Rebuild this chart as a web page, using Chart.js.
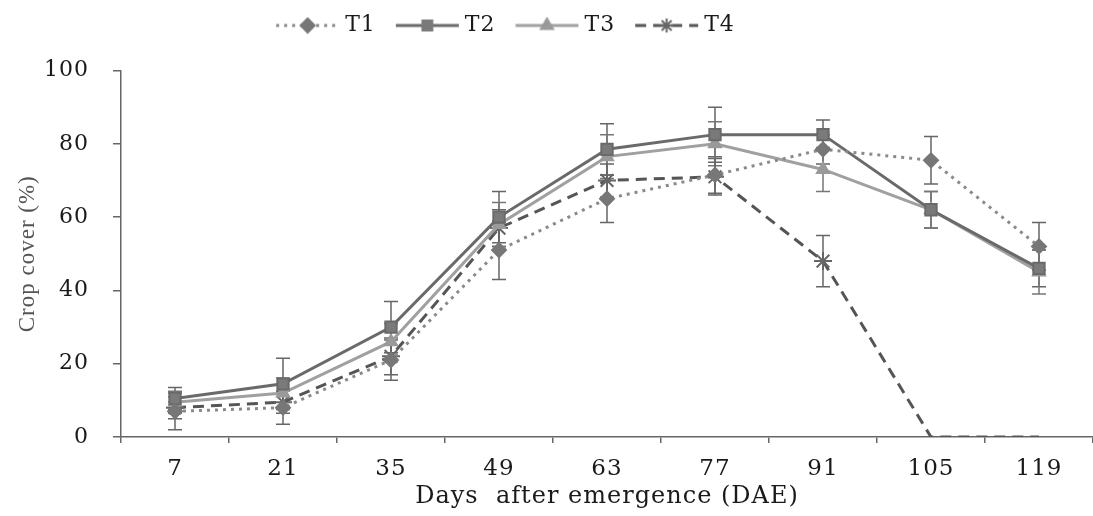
<!DOCTYPE html>
<html lang="en">
<head>
  <meta charset="UTF-8">
  <title>Crop cover</title>
  <script src="https://cdn.jsdelivr.net/npm/chart.js"></script>
  <style>
    html, body { margin: 0; padding: 0; background: #fff; }
    #wrap { width: 1093px; height: 516px; }
  </style>
</head>
<body>
  <div id="wrap"><canvas id="cover"></canvas></div>

  <script>
    const days = ['7', '21', '35', '49', '63', '77', '91', '105', '119'];

    const t1 = [7, 8, 21, 51, 65, 71.5, 78.5, 75.5, 52];
    const t2 = [10.5, 14.5, 30, 60, 78.5, 82.5, 82.5, 62, 46];
    const t3 = [9.5, 12, 26, 58, 76.5, 80, 73, 62, 45];
    const t4 = [8, 9.5, 22, 57, 70, 71, 48, 0, 0];

    const t1Err = [5, 4.5, 5.5, 8, 6.5, 5, 4, 6.5, 6.5];
    const t2Err = [3, 7, 7, 7, 7, 7.5, 4, 5, 5];
    const t3Err = [3, 4, 5, 6, 6, 6, 6, 5, 6];
    const t4Err = [3, 3, 5, 5, 4.5, 5, 7, 0, 0];

    const serif = '"DejaVu Serif", "Liberation Serif", serif';

    // legend picture: line + marker, drawn a bit to the right so the text sits close
    function legendIcon(color, dash, style, markerColor) {
      const c = document.createElement('canvas');
      c.width = 80; c.height = 18;
      const ctx = c.getContext('2d');
      ctx.strokeStyle = color;
      ctx.lineWidth = 3;
      ctx.setLineDash(dash);
      ctx.beginPath(); ctx.moveTo(11, 9); ctx.lineTo(74, 9); ctx.stroke();
      ctx.setLineDash([]);
      ctx.fillStyle = markerColor;
      ctx.strokeStyle = markerColor;
      ctx.lineWidth = 2;
      Chart.helpers.drawPoint(ctx, {
        pointStyle: style, radius: 7, borderWidth: 2, rotation: 0
      }, 42.5, 9);
      return c;
    }

    // the source picture is stretched sideways, so space the letters a bit
    const wideText = {
      id: 'wideText',
      beforeUpdate(chart) { chart.ctx.letterSpacing = '1px'; },
      beforeDraw(chart) { chart.ctx.letterSpacing = '1px'; },
      afterLayout(chart) {
        const lg = chart.legend;
        lg.left -= 41; lg.right -= 41;
        lg.top -= 24; lg.bottom -= 24;
      }
    };

    const errorBars = {
      id: 'errorBars',
      beforeDatasetsDraw(chart) {
        const ctx = chart.ctx;
        const y = chart.scales.y;
        chart.data.datasets.forEach((ds, i) => {
          const meta = chart.getDatasetMeta(i);
          ctx.save();
          ctx.strokeStyle = ds.errColor;
          ctx.lineWidth = 1.5;
          meta.data.forEach((pt, j) => {
            const e = ds.err[j];
            if (!e) return;
            const top = y.getPixelForValue(ds.data[j] + e);
            const bot = y.getPixelForValue(ds.data[j] - e);
            ctx.beginPath();
            ctx.moveTo(pt.x, top); ctx.lineTo(pt.x, bot);
            ctx.moveTo(pt.x - 7, top); ctx.lineTo(pt.x + 7, top);
            ctx.moveTo(pt.x - 7, bot); ctx.lineTo(pt.x + 7, bot);
            ctx.stroke();
          });
          ctx.restore();
        });
      }
    };

    const sets = [
      { label: 'T1', data: t1, err: t1Err, borderColor: '#8a8a8a', borderDash: [3, 5], pointStyle: 'rectRot', pointBackgroundColor: '#777', pointBorderColor: '#777', pointRadius: 7, errColor: '#666' },
      { label: 'T2', data: t2, err: t2Err, borderColor: '#6a6a6a', borderDash: [], pointStyle: 'rect', pointBackgroundColor: '#7a7a7a', pointBorderColor: '#6a6a6a', pointRadius: 8, errColor: '#666' },
      { label: 'T3', data: t3, err: t3Err, borderColor: '#a0a0a0', borderDash: [], pointStyle: 'triangle', pointBackgroundColor: '#9a9a9a', pointBorderColor: '#999', pointRadius: 7, errColor: '#777' },
      { label: 'T4', data: t4, err: t4Err, borderColor: '#555', borderDash: [11, 7], pointStyle: 'star', pointBackgroundColor: '#666', pointBorderColor: '#666', pointRadius: [9, 9, 9, 9, 9, 9, 9, 0, 0], errColor: '#666' }
    ];

    new Chart(document.getElementById('cover').getContext('2d'), {
      type: 'line',
      data: {
        labels: days,
        datasets: sets.map(s => Object.assign({
          borderWidth: 3, fill: false, tension: 0, pointBorderWidth: 2
        }, s))
      },
      plugins: [wideText, errorBars],
      options: {
        responsive: true,
        maintainAspectRatio: false,
        animation: false,
        layout: { autoPadding: false, padding: { left: 0, right: 0, top: 18.5, bottom: 0 } },
        scales: {
          x: {
            offset: true,
            grid: { offset: true, drawOnChartArea: false, tickLength: 6, color: '#666', lineWidth: 1.5 },
            border: { color: '#666', width: 1.5 },
            ticks: { color: '#1a1a1a', padding: 12, font: { family: serif, size: 23 } },
            title: { display: true, text: 'Days  after emergence (DAE)', color: '#1a1a1a', padding: { top: 0, bottom: 5 }, font: { family: serif, size: 24 } },
            afterFit(scale) { scale.height = 79; }
          },
          y: {
            min: 0, max: 100,
            ticks: { stepSize: 20, color: '#1a1a1a', padding: 24, font: { family: serif, size: 22 } },
            grid: { drawOnChartArea: false, tickLength: 8, color: '#666', lineWidth: 1.5 },
            border: { color: '#666', width: 1.5 },
            title: { display: true, text: 'Crop cover (%)', color: '#555', padding: { top: 14, bottom: 0 }, font: { family: '"Liberation Serif", serif', size: 23 } },
            afterFit(scale) { scale.width = 121; }
          }
        },
        plugins: {
          tooltip: { enabled: false },
          legend: {
            position: 'top',
            labels: {
              usePointStyle: true,
              pointStyleWidth: 58,
              padding: 20,
              color: '#1a1a1a',
              font: { family: serif, size: 22 },
              generateLabels(chart) {
                return chart.data.datasets.map((ds, i) => ({
                  text: ds.label,
                  datasetIndex: i,
                  fontColor: '#1a1a1a',
                  pointStyle: legendIcon(ds.borderColor, ds.borderDash, ds.pointStyle, ds.pointBackgroundColor),
                  hidden: false
                }));
              }
            }
          }
        }
      }
    });
  </script>
</body>
</html>
